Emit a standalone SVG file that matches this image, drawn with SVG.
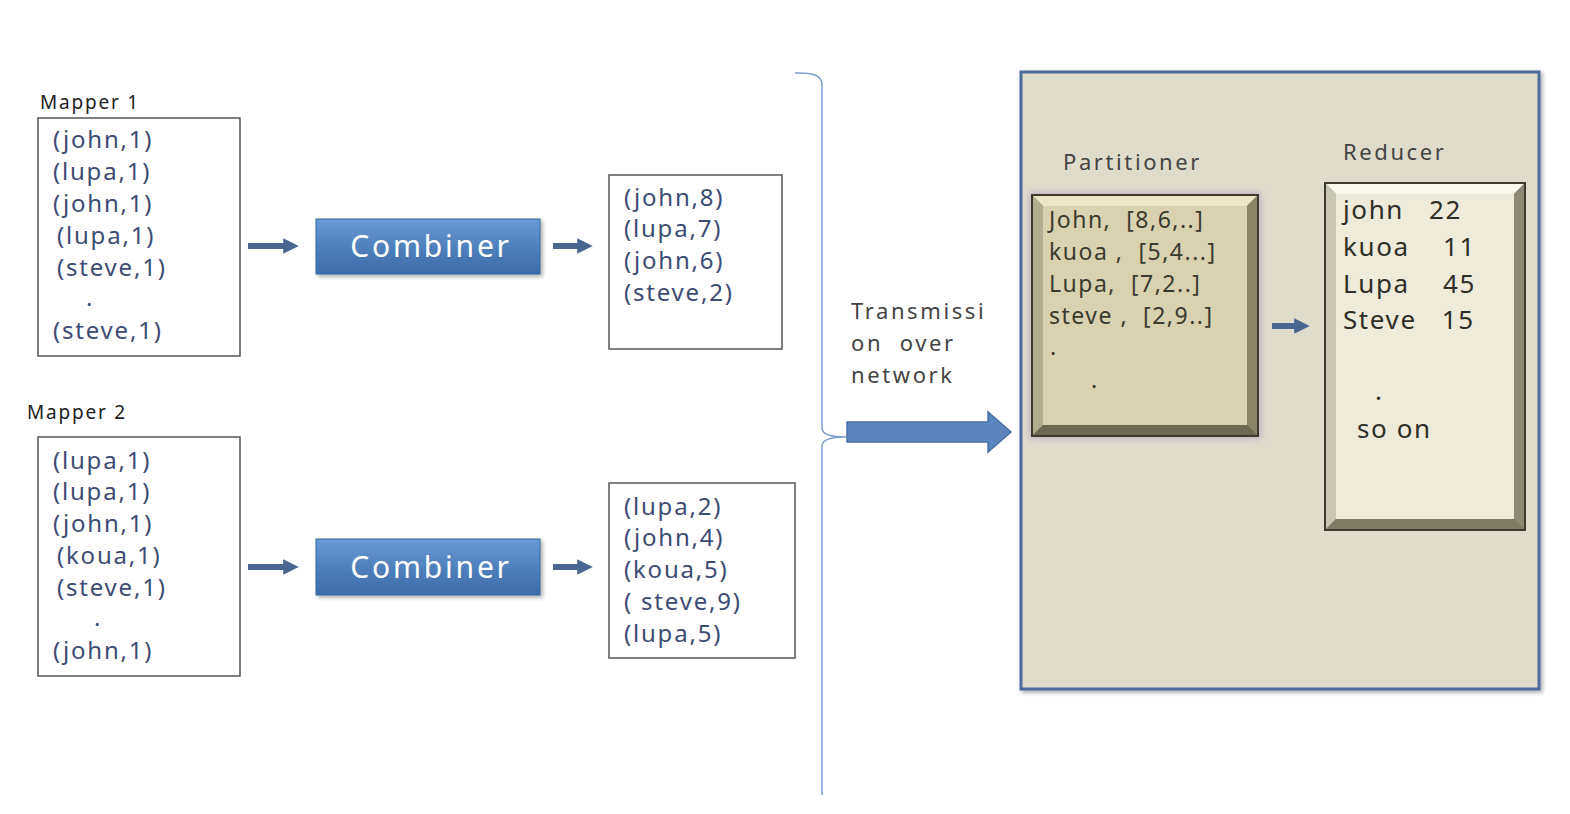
<svg xmlns="http://www.w3.org/2000/svg" width="1570" height="814" viewBox="0 0 1570 814" xml:space="preserve">
<style>
text{white-space:pre}
.lbl{font-family:"Noto Sans","Liberation Sans",sans-serif;font-size:19px;fill:#222;letter-spacing:1.8px}
.kv{font-family:"Noto Sans","Liberation Sans",sans-serif;font-size:24px;fill:#3d4c74;letter-spacing:1.8px}
.box{fill:#fff;stroke:#555;stroke-width:1.5}
.comb{fill:url(#combG);stroke:#3b6aa0;stroke-width:1}
.combT{font-family:"Noto Sans","Liberation Sans",sans-serif;font-size:30px;fill:#fff;text-anchor:middle;letter-spacing:2.8px}
.dark{font-family:"Noto Sans","Liberation Sans",sans-serif;font-size:23px;fill:#3a3a30;letter-spacing:1.5px}
.red{font-family:"Noto Sans","Liberation Sans",sans-serif;font-size:26px;fill:#2e2e28;letter-spacing:1.6px}
.ttl{font-family:"Noto Sans","Liberation Sans",sans-serif;font-size:22px;fill:#444;letter-spacing:2.6px}
.arr{stroke:#4a6690;stroke-width:6;fill:none;marker-end:url(#ah)}
</style>
<defs>
<linearGradient id="combG" x1="0" y1="0" x2="0" y2="1">
<stop offset="0" stop-color="#6a9ad6"/>
<stop offset="0.5" stop-color="#4f81bd"/>
<stop offset="1" stop-color="#3d6ca8"/>
</linearGradient>
<marker id="ah" viewBox="0 0 10 10" refX="5" refY="5" markerWidth="2.6" markerHeight="2.6" orient="auto" markerUnits="strokeWidth">
<path d="M0,0 L10,5 L0,10 z" fill="#4a6690"/>
</marker>
<filter id="sh" x="-10%" y="-10%" width="120%" height="120%">
<feDropShadow dx="2" dy="2" stdDeviation="2" flood-color="#000" flood-opacity="0.35"/>
</filter>
<filter id="glow" x="-10%" y="-10%" width="120%" height="120%">
<feGaussianBlur stdDeviation="3"/>
</filter>
</defs>
<rect width="1570" height="814" fill="#fff"/>
<g id="big-box">
<rect x="1021" y="72" width="518" height="617" fill="#dfdccc" stroke="#4d6a9a" stroke-width="3" filter="url(#sh)"/>
</g>
<g id="mapper1">
<text class="lbl" x="40" y="109">Mapper 1</text>
<rect class="box" x="38" y="118" width="202" height="238"/>
<text class="kv" x="53" y="148">(john,1)</text>
<text class="kv" x="53" y="180">(lupa,1)</text>
<text class="kv" x="53" y="212">(john,1)</text>
<text class="kv" x="57" y="244">(lupa,1)</text>
<text class="kv" x="57" y="276">(steve,1)</text>
<text class="kv" x="86" y="306">.</text>
<text class="kv" x="53" y="339">(steve,1)</text>
</g>
<g id="combiner1">
<rect class="comb" x="316" y="219" width="224" height="55" filter="url(#sh)"/>
<text class="combT" x="431" y="257">Combiner</text>
</g>
<g id="out1">
<rect class="box" x="609" y="175" width="173" height="174"/>
<text class="kv" x="624" y="206">(john,8)</text>
<text class="kv" x="624" y="237">(lupa,7)</text>
<text class="kv" x="624" y="269">(john,6)</text>
<text class="kv" x="624" y="301">(steve,2)</text>
</g>
<g id="mapper2">
<text class="lbl" x="27" y="419">Mapper 2</text>
<rect class="box" x="38" y="437" width="202" height="239"/>
<text class="kv" x="53" y="469">(lupa,1)</text>
<text class="kv" x="53" y="500">(lupa,1)</text>
<text class="kv" x="53" y="532">(john,1)</text>
<text class="kv" x="57" y="564">(koua,1)</text>
<text class="kv" x="57" y="596">(steve,1)</text>
<text class="kv" x="94" y="626">.</text>
<text class="kv" x="53" y="659">(john,1)</text>
</g>
<g id="combiner2">
<rect class="comb" x="316" y="539" width="224" height="56" filter="url(#sh)"/>
<text class="combT" x="431" y="578">Combiner</text>
</g>
<g id="out2">
<rect class="box" x="609" y="483" width="186" height="175"/>
<text class="kv" x="624" y="515">(lupa,2)</text>
<text class="kv" x="624" y="546">(john,4)</text>
<text class="kv" x="624" y="578">(koua,5)</text>
<text class="kv" x="624" y="610">( steve,9)</text>
<text class="kv" x="624" y="642">(lupa,5)</text>
</g>
<g id="transmission">
<text class="ttl" x="851" y="319">Transmissi</text>
<text class="ttl" x="851" y="351">on  over</text>
<text class="ttl" x="851" y="383">network</text>
</g>
<g id="partitioner">
<text class="ttl" x="1063" y="170">Partitioner</text>
<rect x="1029" y="192" width="232" height="247" fill="#b8a0c8" opacity="0.7" filter="url(#glow)"/>
<rect x="1032" y="195" width="226" height="241" fill="#7a7560"/>
<polygon points="1032,195 1258,195 1247,206 1043,206" fill="#ece6c6"/>
<polygon points="1032,195 1043,206 1043,425 1032,436" fill="#b3ad90"/>
<polygon points="1258,195 1247,206 1247,425 1258,436" fill="#8a8468"/>
<polygon points="1032,436 1043,425 1247,425 1258,436" fill="#6e6955"/>
<rect x="1043" y="206" width="204" height="219" fill="#d8d2b0"/>
<rect x="1032" y="195" width="226" height="241" fill="none" stroke="#3e3a2e" stroke-width="2"/>
<text class="dark" x="1049" y="228">John,  [8,6,..]</text>
<text class="dark" x="1049" y="260">kuoa ,  [5,4...]</text>
<text class="dark" x="1049" y="292">Lupa,  [7,2..]</text>
<text class="dark" x="1049" y="324">steve ,  [2,9..]</text>
<text class="dark" x="1050" y="355">.</text>
<text class="dark" x="1091" y="388">.</text>
</g>
<g id="reducer">
<text class="ttl" x="1343" y="160">Reducer</text>
<rect x="1325" y="183" width="200" height="347" fill="#7a7662"/>
<polygon points="1325,183 1525,183 1514,194 1336,194" fill="#fbf9ee"/>
<polygon points="1325,183 1336,194 1336,519 1325,530" fill="#c9c6b4"/>
<polygon points="1525,183 1514,194 1514,519 1525,530" fill="#8d8975"/>
<polygon points="1325,530 1336,519 1514,519 1525,530" fill="#807c68"/>
<rect x="1336" y="194" width="178" height="325" fill="#eeebdb"/>
<rect x="1325" y="183" width="200" height="347" fill="none" stroke="#3e3a2e" stroke-width="2"/>
<text class="red" x="1343" y="219">john   22</text>
<text class="red" x="1343" y="256">kuoa    11</text>
<text class="red" x="1343" y="293">Lupa    45</text>
<text class="red" x="1343" y="329">Steve   15</text>
<text class="red" x="1375" y="400">.</text>
<text class="red" x="1357" y="438">so on</text>
</g>
<g id="connectors">
<line class="arr" x1="248" y1="246" x2="291" y2="246"/>
<line class="arr" x1="553" y1="246" x2="585" y2="246"/>
<line class="arr" x1="248" y1="567" x2="291" y2="567"/>
<line class="arr" x1="553" y1="567" x2="585" y2="567"/>
<line class="arr" x1="1272" y1="326" x2="1302" y2="326"/>
<path d="M795,73 Q822,72 822,84 L822,428 Q822,437 846,437 Q822,437 822,446 L822,795" fill="none" stroke="#7f9fcf" stroke-width="1.5"/>
<polygon points="847,422 988,422 988,412 1011,432 988,452 988,442 847,442" fill="#5b85bd" stroke="#4a6fa5" stroke-width="1.5"/>
</g>
</svg>
